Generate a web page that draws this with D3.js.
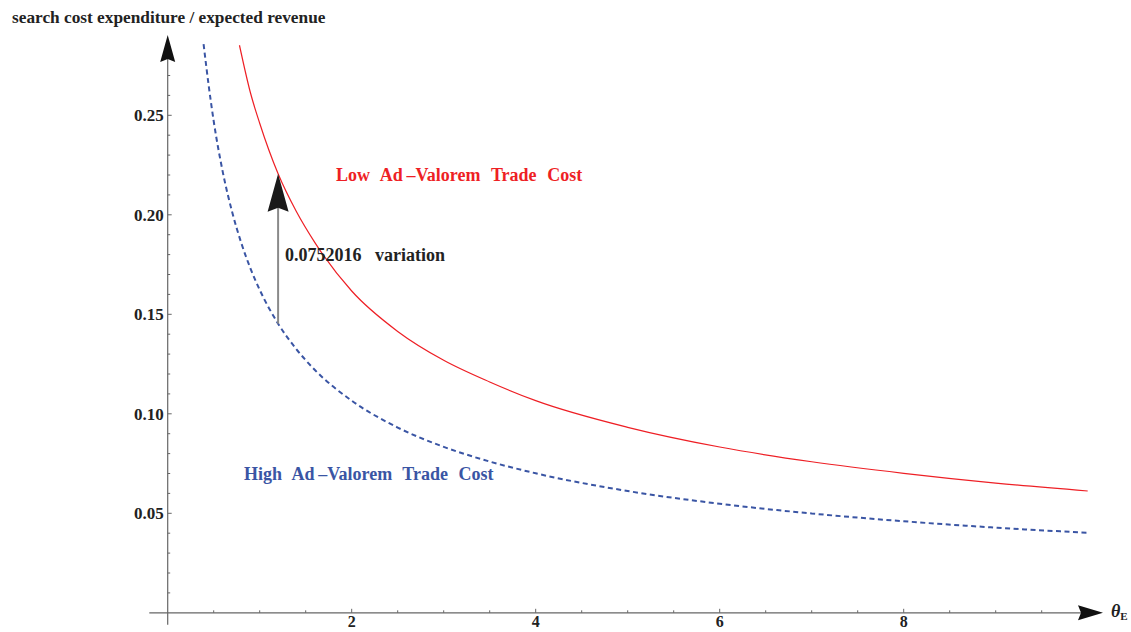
<!DOCTYPE html>
<html>
<head>
<meta charset="utf-8">
<script src="https://cdn.jsdelivr.net/npm/d3@7"></script>
<style>
  body { margin: 0; background: #fff; }
  text { font-family: "Liberation Serif", "Times New Roman", serif; font-weight: bold; }
</style>
</head>
<body>
<svg id="svg1" width="1131" height="632"></svg>
<script>
// values
var lowX  = [0.78, 0.9, 1.0, 1.2, 1.4, 1.6, 2.0, 2.5, 3.0, 3.5, 4.0, 5.0, 6.0, 7.0, 8.0, 9.0, 10.0];
var lowY  = [0.2852, 0.2612, 0.2460, 0.2206, 0.2015, 0.1860, 0.1617, 0.1414, 0.1269, 0.1160, 0.1066, 0.0932, 0.0833, 0.0759, 0.0701, 0.0652, 0.0612];
var highX = [0.39, 0.45, 0.5, 0.6, 0.7, 0.8, 0.9, 1.0, 1.2, 1.4, 1.6, 2.0, 2.5, 3.0, 3.5, 4.0, 5.0, 6.0, 7.0, 8.0, 9.0, 10.0];
var highY = [0.2858, 0.2634, 0.2471, 0.2212, 0.2015, 0.1858, 0.1730, 0.1623, 0.1453, 0.1324, 0.1220, 0.1066, 0.0931, 0.0834, 0.0760, 0.0701, 0.0612, 0.0548, 0.0499, 0.0460, 0.0428, 0.0402];

var xTicks = [2, 4, 6, 8];
var yTicks = [0.05, 0.10, 0.15, 0.20, 0.25];

var arrowX = 1.2, arrowFrom = 0.1453, arrowTo = 0.2206;
var variationLabel = "0.0752016 variation";
var lowLabel = "Low Ad\u2009\u2013Valorem Trade Cost";
var highLabel = "High Ad\u2009\u2013Valorem Trade Cost";
var yTitle = "search cost expenditure / expected revenue";

var svg = d3.select("#svg1");

var x = d3.scaleLinear().domain([0, 10]).range([167.7, 1087.7]);
var y = d3.scaleLinear().domain([0, 0.25]).range([612.8, 115.3]);

var axisColor = "#666",
    red = "#ee1f25",
    blue = "#3a55a4";

// minor ticks
var xMinor = d3.range(0.5, 10, 0.5).filter(function(d) { return xTicks.indexOf(d) == -1; });
var yMinor = d3.range(1, 28).map(function(d) { return d / 100; })
    .filter(function(d) { return yTicks.every(function(t) { return Math.abs(t - d) > 1e-9; }); });

var axes = svg.append("g");

// x axis line
axes.append("line")
    .attr("x1", x(-0.2)).attr("x2", x(10.1))
    .attr("y1", y(0)).attr("y2", y(0))
    .attr("stroke", axisColor).attr("stroke-width", 1.2);
// y axis line
axes.append("line")
    .attr("x1", x(0)).attr("x2", x(0))
    .attr("y1", y(-0.006)).attr("y2", y(0.287))
    .attr("stroke", axisColor).attr("stroke-width", 1.2);

axes.selectAll(".xmaj").data(xTicks).enter().append("line")
    .attr("x1", function(d) { return x(d); }).attr("x2", function(d) { return x(d); })
    .attr("y1", y(0)).attr("y2", y(0) - 4)
    .attr("stroke", axisColor).attr("stroke-width", 1);
axes.selectAll(".xmin").data(xMinor).enter().append("line")
    .attr("x1", function(d) { return x(d); }).attr("x2", function(d) { return x(d); })
    .attr("y1", y(0)).attr("y2", y(0) - 2.5)
    .attr("stroke", axisColor).attr("stroke-width", 1);
axes.selectAll(".ymaj").data(yTicks).enter().append("line")
    .attr("x1", x(0)).attr("x2", x(0) + 4)
    .attr("y1", function(d) { return y(d); }).attr("y2", function(d) { return y(d); })
    .attr("stroke", axisColor).attr("stroke-width", 1);
axes.selectAll(".ymin").data(yMinor).enter().append("line")
    .attr("x1", x(0)).attr("x2", x(0) + 2.5)
    .attr("y1", function(d) { return y(d); }).attr("y2", function(d) { return y(d); })
    .attr("stroke", axisColor).attr("stroke-width", 1);

axes.selectAll(".xlab").data(xTicks).enter().append("text")
    .attr("x", function(d) { return x(d); })
    .attr("y", y(0) + 14.5)
    .attr("text-anchor", "middle")
    .attr("font-size", 16)
    .attr("fill", "#222")
    .text(function(d) { return d; });
axes.selectAll(".ylab").data(yTicks).enter().append("text")
    .attr("x", x(0) - 4)
    .attr("y", function(d) { return y(d) + 6; })
    .attr("text-anchor", "end")
    .attr("font-size", 17)
    .attr("fill", "#222")
    .text(function(d) { return d3.format(".2f")(d); });

// arrow heads on the axes
function head(len, wid, notch) {
  return "M0,0 L" + (-wid / 2) + "," + len + " L0," + (len - notch) + " L" + (wid / 2) + "," + len + " Z";
}
axes.append("path")
    .attr("d", head(27, 15, 3))
    .attr("transform", "translate(" + x(0) + "," + 35 + ")")
    .attr("fill", "#111");
axes.append("path")
    .attr("d", head(25, 15, 3))
    .attr("transform", "translate(" + 1103 + "," + y(0) + ") rotate(90)")
    .attr("fill", "#111");

// axis titles
svg.append("text")
    .attr("x", 12).attr("y", 23)
    .attr("font-size", 17.3)
    .attr("fill", "#222")
    .text(yTitle);
var th = svg.append("text")
    .attr("x", 1111).attr("y", 617)
    .attr("font-size", 18)
    .attr("fill", "#222");
th.append("tspan").attr("font-style", "italic").text("\u03b8");
th.append("tspan").attr("font-size", 11).attr("dy", 3).text("E");

// curves
var line = d3.line()
    .x(function(d) { return x(d[0]); })
    .y(function(d) { return y(d[1]); })
    .curve(d3.curveMonotoneX);

svg.append("path")
    .datum(d3.zip(lowX, lowY))
    .attr("d", line)
    .attr("fill", "none")
    .attr("stroke", red)
    .attr("stroke-width", 1.2);

svg.append("path")
    .datum(d3.zip(highX, highY))
    .attr("d", line)
    .attr("fill", "none")
    .attr("stroke", blue)
    .attr("stroke-width", 2)
    .attr("stroke-dasharray", "5,3.5");

// variation arrow
svg.append("line")
    .attr("x1", x(arrowX)).attr("x2", x(arrowX))
    .attr("y1", y(arrowFrom)).attr("y2", y(arrowTo) + 30)
    .attr("stroke", "#8a8a8a")
    .attr("stroke-width", 2);
svg.append("path")
    .attr("d", head(38, 21, 4))
    .attr("transform", "translate(" + x(arrowX) + "," + y(arrowTo) + ")")
    .attr("fill", "#1a1a1a");

svg.append("text")
    .attr("x", 285).attr("y", 261)
    .attr("font-size", 18)
    .attr("word-spacing", 9)
    .attr("fill", "#222")
    .text(variationLabel);

svg.append("text")
    .attr("x", 336).attr("y", 181)
    .attr("font-size", 18)
    .attr("word-spacing", 6.3)
    .attr("fill", red)
    .text(lowLabel);

svg.append("text")
    .attr("x", 244).attr("y", 480)
    .attr("font-size", 18)
    .attr("word-spacing", 6)
    .attr("fill", blue)
    .text(highLabel);
</script>
</body>
</html>
